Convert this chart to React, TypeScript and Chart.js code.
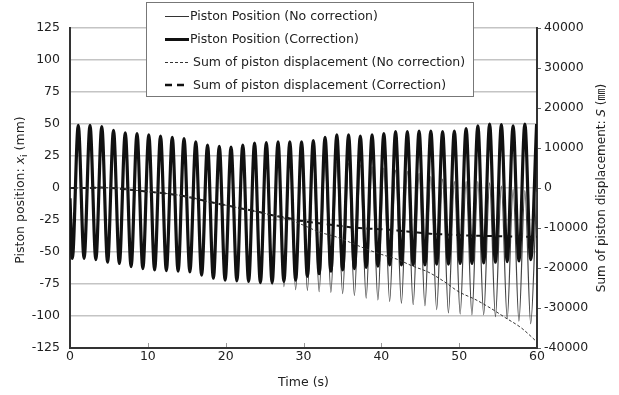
import { useEffect, useRef } from 'react';
import { Chart, registerables } from 'chart.js';
Chart.register(...registerables);

// ---------- data ----------
const troughTimes = [0.30, 1.81, 3.32, 4.83, 6.34, 7.85, 9.36, 10.87, 12.38, 13.89, 15.40, 16.91, 18.42, 19.93, 21.44, 22.95, 24.46, 25.97, 27.48, 28.99, 30.50, 32.01, 33.52, 35.03, 36.54, 38.05, 39.56, 41.07, 42.58, 44.09, 45.60, 47.11, 48.62, 50.13, 51.64, 53.15, 54.66, 56.17, 57.68, 59.19];
const peakTimes = [1.06, 2.57, 4.08, 5.59, 7.10, 8.61, 10.12, 11.63, 13.14, 14.65, 16.16, 17.67, 19.18, 20.69, 22.20, 23.71, 25.22, 26.73, 28.24, 29.75, 31.26, 32.77, 34.28, 35.79, 37.30, 38.81, 40.32, 41.83, 43.34, 44.85, 46.36, 47.87, 49.38, 50.89, 52.40, 53.91, 55.42, 56.93, 58.44, 59.95];
const startPosition = -8;

// Piston Position (Correction)
const correctionPeaks = [49, 49, 48, 45, 43, 42.5, 41.5, 40.5, 39.5, 38.5, 36, 33.5, 32.5, 32, 33.5, 35, 35.5, 36, 36, 36, 37, 39.5, 41.5, 41.5, 40.5, 41.5, 42.5, 44, 44, 44.5, 44.5, 44, 44.5, 46.5, 48.5, 50, 49.5, 48.5, 50, 50];
const correctionTroughs = [-55, -55, -56, -58, -59, -61.5, -63, -64, -64.5, -65, -65.5, -68, -70.5, -72, -72.5, -73, -74, -74, -73, -72, -69, -67, -65, -64, -63, -62, -61, -60, -60, -60, -60, -59.5, -59.5, -59, -59, -58.5, -58, -57.5, -57, -56];

// Piston Position (No correction)
const noCorrectionPeaks = [49, 49, 48, 45, 43, 42.5, 41.5, 40.5, 39.5, 38.5, 36, 33.5, 32.5, 32, 33.5, 35, 34.5, 32, 28, 24, 22.5, 21.5, 20.5, 19.5, 18, 16.5, 15.5, 14, 13, 11.5, 9, 7, 5, 5, 5, 4, 1.5, -1, -2, -3];
const noCorrectionTroughs = [-55, -55, -56, -58, -59, -61.5, -63, -64, -64.5, -65, -65.5, -68, -70.5, -72, -72.5, -73, -74, -75.5, -77, -79.5, -80, -81, -81.5, -82.5, -84, -86, -87.5, -88.5, -90, -91, -92, -95, -97.5, -98.5, -99, -99, -100.5, -102, -104, -106];

// Sum of piston displacement (mm)
const sumTimes = [0, 2, 4, 6, 8, 10, 12, 14, 16, 18, 20, 22, 24, 26, 28, 30, 32, 34, 36, 38, 40, 42, 44, 46, 48, 50, 52, 54, 56, 58, 60];
const sumNoCorrection = [0, 0, 100, -100, -500, -900, -1300, -1800, -2600, -3500, -4300, -5100, -5900, -6800, -7800, -9300, -11000, -12100, -13600, -15200, -16600, -17800, -19500, -21000, -23300, -26000, -27800, -30000, -32500, -35000, -38500];
const sumCorrection = [0, 0, 100, -100, -500, -900, -1300, -1800, -2600, -3500, -4300, -5100, -5900, -6800, -7500, -8300, -8800, -9300, -9800, -10100, -10300, -10600, -11000, -11400, -11600, -11800, -11900, -12000, -12100, -12200, -12200];

const seriesLabels = [
  'Piston Position (No correction)',
  'Piston Position (Correction)',
  'Sum of piston displacement (No correction)',
  'Sum of piston displacement (Correction)',
];
const xTicks = [0, 10, 20, 30, 40, 50, 60];

// ---------- helpers ----------
const FONT = '"DejaVu Sans", sans-serif';
const TEXT = '#222';

function oscillation(peaks: number[], troughs: number[]) {
  const pts: { x: number; y: number }[] = [{ x: 0, y: startPosition }];
  for (let k = 0; k < peaks.length; k++) {
    pts.push({ x: troughTimes[k], y: troughs[k] });
    pts.push({ x: peakTimes[k], y: peaks[k] });
  }
  return pts;
}
function sumSeries(values: number[]) {
  return sumTimes.map((t, i) => ({ x: t, y: values[i] }));
}

const overlayPlugin = {
  id: 'overlay',
  afterDraw(chart: any) {
    const ctx: CanvasRenderingContext2D = chart.ctx;
    const area = chart.chartArea;
    const xs = chart.scales.x;
    ctx.save();
    // inner x ticks
    ctx.strokeStyle = '#999';
    ctx.lineWidth = 1;
    for (const t of xTicks.slice(1, -1)) {
      const px = Math.round(xs.getPixelForValue(t)) + 0.5;
      ctx.beginPath();
      ctx.moveTo(px, area.bottom - 1);
      ctx.lineTo(px, area.bottom - 5);
      ctx.stroke();
    }

    // legend box
    const bx = 146.5, by = 2.5, bw = 327, bh = 94;
    ctx.fillStyle = '#fff';
    ctx.fillRect(bx, by, bw, bh);
    ctx.strokeStyle = '#777';
    ctx.lineWidth = 1;
    ctx.strokeRect(bx, by, bw, bh);
    const rows = [16.5, 39.5, 62.5, 85];
    const styles = [
      { w: 1, dash: [] as number[], c: '#333', tx: 190 },
      { w: 3, dash: [] as number[], c: '#111', tx: 190 },
      { w: 1, dash: [3, 2], c: '#333', tx: 193 },
      { w: 2.5, dash: [7, 5], c: '#111', tx: 193 },
    ];
    ctx.font = `12.5px ${FONT}`;
    ctx.textBaseline = 'middle';
    ctx.textAlign = 'left';
    rows.forEach((y, i) => {
      const s = styles[i];
      ctx.strokeStyle = s.c;
      ctx.lineWidth = s.w;
      ctx.setLineDash(s.dash);
      ctx.beginPath();
      ctx.moveTo(165, y);
      ctx.lineTo(189, y);
      ctx.stroke();
      ctx.setLineDash([]);
      ctx.fillStyle = TEXT;
      ctx.fillText(seriesLabels[i], s.tx, y + 0.5);
    });

    // x title
    ctx.fillStyle = TEXT;
    ctx.font = `12.5px ${FONT}`;
    ctx.textAlign = 'center';
    ctx.textBaseline = 'middle';
    ctx.fillText('Time (s)', (area.left + area.right) / 2, 383);

    // rotated titles
    const drawRich = (cx: number, cy: number, parts: { t: string; f: string; dy?: number }[]) => {
      ctx.save();
      ctx.translate(cx, cy);
      ctx.rotate(-Math.PI / 2);
      ctx.textAlign = 'left';
      ctx.textBaseline = 'alphabetic';
      let total = 0;
      for (const p of parts) { ctx.font = p.f; total += ctx.measureText(p.t).width; }
      let x = -total / 2;
      for (const p of parts) {
        ctx.font = p.f;
        ctx.fillText(p.t, x, 4.5 + (p.dy || 0));
        x += ctx.measureText(p.t).width;
      }
      ctx.restore();
    };
    drawRich(19, 190, [
      { t: 'Piston position: ', f: `12.5px ${FONT}` },
      { t: 'x', f: `italic 12.5px ${FONT}` },
      { t: 'i', f: `9px ${FONT}`, dy: 3 },
      { t: ' (mm)', f: `12.5px ${FONT}` },
    ]);
    drawRich(600, 188, [
      { t: 'Sum of piston displacement: ', f: `12px ${FONT}` },
      { t: 'S', f: `italic 12px ${FONT}` },
      { t: ' (㎜)', f: `12px "DejaVu Sans", "Noto Sans CJK JP", sans-serif` },
    ]);
    ctx.restore();
  },
};

export default function App() {
  const ref = useRef<HTMLCanvasElement>(null);
  useEffect(() => {
    document.body.style.margin = '0';
    const tickFont = { family: FONT, size: 12.5 };
    const border = { color: '#333', width: 2 };
    const chart = new Chart(ref.current as HTMLCanvasElement, {
      type: 'line',
      data: {
        datasets: [
          {
            label: seriesLabels[0],
            data: oscillation(noCorrectionPeaks, noCorrectionTroughs),
            borderColor: '#444', borderWidth: 1.2, pointRadius: 0,
            cubicInterpolationMode: 'monotone', yAxisID: 'y', order: 3,
          },
          {
            label: seriesLabels[1],
            data: oscillation(correctionPeaks, correctionTroughs),
            borderColor: '#111', borderWidth: 3.2, pointRadius: 0,
            cubicInterpolationMode: 'monotone', yAxisID: 'y', order: 2,
          },
          {
            label: seriesLabels[2],
            data: sumSeries(sumNoCorrection),
            borderColor: '#333', borderWidth: 1, borderDash: [3, 2], pointRadius: 0,
            cubicInterpolationMode: 'monotone', yAxisID: 'y2', order: 0,
          },
          {
            label: seriesLabels[3],
            data: sumSeries(sumCorrection),
            borderColor: '#151515', borderWidth: 2, borderDash: [6, 4], pointRadius: 0,
            cubicInterpolationMode: 'monotone', yAxisID: 'y2', order: 1,
          },
        ],
      } as any,
      options: {
        responsive: false,
        animation: false,
        devicePixelRatio: 1,
        layout: { padding: { top: 28, left: 0, right: 0, bottom: 0 } },
        plugins: { legend: { display: false }, tooltip: { enabled: false } },
        scales: {
          x: {
            type: 'linear', min: 0, max: 60,
            ticks: { stepSize: 10, font: tickFont, color: TEXT, padding: 1, maxRotation: 0, callback: (v: any) => String(v) },
            grid: { drawOnChartArea: false, drawTicks: false },
            border,
            afterFit: (s: any) => { s.height = 47; },
          },
          y: {
            position: 'left', min: -125, max: 125,
            ticks: { stepSize: 25, font: tickFont, color: TEXT, padding: 10, callback: (v: any) => String(v) },
            grid: { color: '#c4c4c4', lineWidth: 1.5, drawTicks: false },
            border,
            afterFit: (s: any) => { s.width = 70; },
          },
          y2: {
            position: 'right', min: -40000, max: 40000,
            ticks: { stepSize: 10000, font: tickFont, color: TEXT, padding: 3, callback: (v: any) => String(v) },
            grid: { drawOnChartArea: false, tickLength: 4, color: '#666' },
            border,
            afterFit: (s: any) => { s.width = 82; },
          },
        },
      } as any,
      plugins: [overlayPlugin],
    });
    return () => chart.destroy();
  }, []);
  return (
    <div style={{ width: 619, height: 395 }}>
      <canvas ref={ref} width={619} height={395} style={{ display: 'block' }} />
    </div>
  );
}
